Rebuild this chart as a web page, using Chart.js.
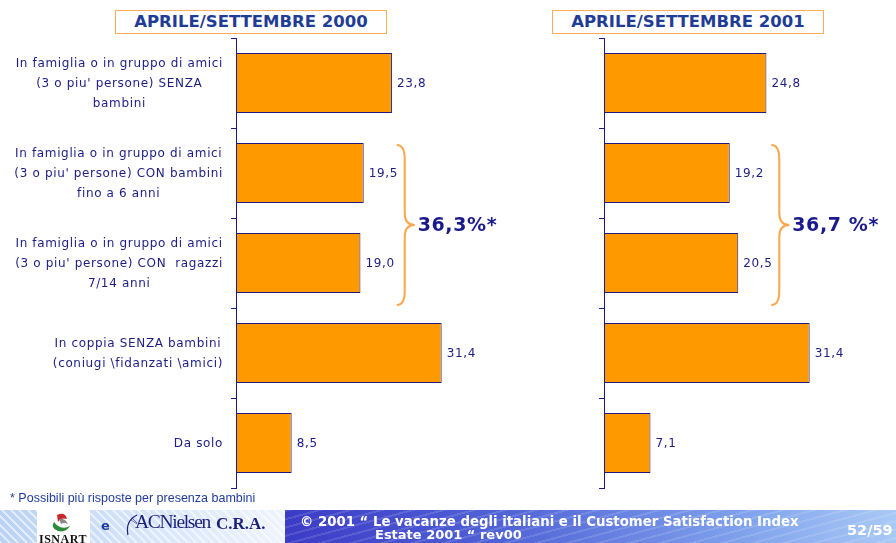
<!DOCTYPE html>
<html lang="it">
<head>
<meta charset="utf-8">
<title>Con chi si va in vacanza - Aprile/Settembre 2000 e 2001</title>
<script src="https://cdn.jsdelivr.net/npm/chart.js@4.4.1/dist/chart.umd.min.js"></script>
<style>
  html, body { margin: 0; padding: 0; background: #fff; }
  body { width: 896px; height: 543px; position: relative; overflow: hidden; font-family: "DejaVu Sans", sans-serif; }
  canvas { position: absolute; top: 0; }
  #chart2000 { left: 0; }
  #chart2001 { left: 368px; }
  .titolo {
    position: absolute; top: 10px; height: 22px; width: 270px;
    border: 1.5px solid #ffab5c; background: #fff; color: #1f3c96;
    font: bold 16.5px "DejaVu Sans", sans-serif; text-align: center; line-height: 22px;
  }
  #nota { position: absolute; left: 10px; top: 491px; font: 12.5px "Liberation Sans", Arial, sans-serif; color: #1f3c9a; }
  #piede { position: absolute; left: 0; top: 510px; width: 896px; height: 33px; }
  #piede-sx {
    position: absolute; left: 0; top: 0; width: 285px; height: 33px;
    background:
      repeating-linear-gradient(45deg, rgba(255,255,255,0.55) 0 2px, rgba(255,255,255,0) 2px 6px),
      linear-gradient(to right, #b9d1f3, #dbe8fb 60%, #eef4fd);
  }
  #piede-dx {
    position: absolute; left: 285px; top: 0; width: 611px; height: 33px;
    background:
      repeating-linear-gradient(165deg, rgba(255,255,255,0.13) 0 2px, rgba(255,255,255,0) 2px 8px),
      linear-gradient(to right, #3b3bc6, #5062d6 35%, #7fa2ec 75%, #a9c9f5);
  }
  #logo-isnart { position: absolute; left: 37px; top: 0; width: 53px; height: 33px; background: #fff; overflow: hidden; }
  #logo-isnart span { position: absolute; left: 2px; top: 22px; font: bold 12px "Liberation Serif", serif; color: #111; letter-spacing: 0.5px; }
  #e { position: absolute; left: 101px; top: 518px; font: bold 13px "DejaVu Sans", sans-serif; color: #1f3c9a; }
  #acn { position: absolute; left: 135px; top: 511px; font: 19.5px "Liberation Serif", serif; color: #1a1f7a; letter-spacing: -1.3px; }
  #cra { position: absolute; left: 216px; top: 514px; font: bold 17px "Liberation Serif", serif; color: #1a1f7a; }
  .bianco { position: absolute; color: #fff; font: bold 13.3px "DejaVu Sans", sans-serif; white-space: nowrap; }
</style>
</head>
<body>

<canvas id="chart2000" width="560" height="500"></canvas>
<canvas id="chart2001" width="528" height="500"></canvas>

<div class="titolo" style="left:115px">APRILE/SETTEMBRE 2000</div>
<div class="titolo" style="left:552px">APRILE/SETTEMBRE 2001</div>

<div id="nota">* Possibili più risposte per presenza bambini</div>

<div id="piede">
  <div id="piede-sx"></div>
  <div id="piede-dx"></div>
  <div id="logo-isnart">
    <svg width="53" height="24" style="position:absolute;left:0;top:0">
      <path d="M20 5 q8 -4 10 4 q-6 -2 -9 3 z" fill="#c8282c"/>
      <path d="M17 12 q-4 6 4 9 q8 2 12 -5 q-5 3 -10 1 q-4 -2 -6 -5 z" fill="#2e8b3a"/>
      <path d="M22 9 q6 -1 9 5 q-4 -2 -7 0 z" fill="#888"/>
    </svg>
    <span>ISNART</span>
  </div>
</div>
<div id="e">e</div>
<svg style="position:absolute;left:123px;top:512px" width="18" height="26">
  <path d="M14 3 q-12 6 -9 20" stroke="#1a1f7a" stroke-width="1.2" fill="none"/>
  <path d="M8 8 l6 4 M9 6 l5 5" stroke="#1a1f7a" stroke-width="0.6"/>
</svg>
<div id="acn">ACNielsen</div>
<div id="cra">C.R.A.</div>
<div class="bianco" style="left:300px;top:514px">© 2001 “ Le vacanze degli italiani e il Customer Satisfaction Index</div>
<div class="bianco" style="left:375px;top:527px;font-size:13px">Estate 2001 “ rev00</div>
<div class="bianco" style="left:847px;top:522px;font-size:14.5px">52/59</div>

<script>
// --- Dati ---
const categorie = [
    ['In famiglia o in gruppo di amici', "(3 o piu' persone) SENZA", 'bambini'],
    ['In famiglia o in gruppo di amici', "(3 o piu' persone) CON bambini", 'fino a 6 anni'],
    ['In famiglia o in gruppo di amici', "(3 o piu' persone) CON  ragazzi", '7/14 anni'],
    ['In coppia SENZA bambini', '(coniugi \\fidanzati \\amici)'],
    ['Da solo']
];
const valori2000 = [23.8, 19.5, 19.0, 31.4, 8.5];
const valori2001 = [24.8, 19.2, 20.5, 31.4, 7.1];
const gruppo2000 = '36,3%*';   // somma con bambini/ragazzi
const gruppo2001 = '36,7 %*';

const blu = '#1c1c84';
const arancio = '#ff9900';

function formatta(v) {
    return v.toFixed(1).replace('.', ',');
}

// Disegna una parentesi graffa aperta a sinistra
function disegnaGraffa(ctx, x0, alto, basso) {
    const mezzo = (alto + basso) / 2;
    const dorso = x0 + 8;
    const punta = x0 + 18;
    ctx.beginPath();
    ctx.moveTo(x0, alto);
    ctx.quadraticCurveTo(dorso, alto, dorso, alto + 14);
    ctx.lineTo(dorso, mezzo - 12);
    ctx.quadraticCurveTo(dorso, mezzo, punta, mezzo);
    ctx.quadraticCurveTo(dorso, mezzo, dorso, mezzo + 12);
    ctx.lineTo(dorso, basso - 14);
    ctx.quadraticCurveTo(dorso, basso, x0, basso);
    ctx.stroke();
    return { x: punta, y: mezzo };
}

// Plugin: etichette categorie, valori, graffa con totale
const etichettePlugin = {
    id: 'etichette',
    afterDatasetsDraw(chart, args, opts) {
        const ctx = chart.ctx;
        const xs = chart.scales.x;
        const ys = chart.scales.y;
        const valori = chart.data.datasets[0].data;
        const meta = chart.getDatasetMeta(0);
        ctx.save();
        ctx.fillStyle = blu;
        ctx.textBaseline = 'middle';
        ctx.font = '12px "DejaVu Sans"';
        ctx.letterSpacing = '0.65px';

        // valori a destra delle barre
        ctx.textAlign = 'left';
        meta.data.forEach((barra, i) => {
            ctx.fillText(formatta(valori[i]), barra.x + 5, barra.y + 1);
        });

        // categorie (solo grafico di sinistra)
        if (opts.categorie) {
            const destra = ys.right - 13;
            const interlinea = 20;
            ctx.textAlign = 'center';
            categorie.forEach((righe, i) => {
                const larghezza = Math.max(...righe.map(r => ctx.measureText(r).width));
                const cx = destra - larghezza / 2;
                const yc = ys.getPixelForValue(i);
                righe.forEach((r, k) => {
                    ctx.fillText(r, cx, yc + (k - (righe.length - 1) / 2) * interlinea + 1);
                });
            });
        }

        // graffa sulle due categorie con bambini / ragazzi
        const xg = xs.getPixelForValue(Math.max(valori[1], valori[2])) + 33;
        ctx.strokeStyle = '#ffa64d';
        ctx.lineWidth = 2;
        const p = disegnaGraffa(ctx, xg, ys.getPixelForValue(1) - 28, ys.getPixelForValue(2) + 42);
        ctx.font = 'bold 19px "DejaVu Sans"';
        ctx.letterSpacing = '0.6px';
        ctx.textAlign = 'left';
        ctx.fillStyle = '#1a1a8c';
        ctx.fillText(opts.gruppo, p.x + 3, p.y + 1);
        ctx.restore();
    }
};

function creaGrafico(id, valori, gruppo, mostraCategorie) {
    const ctx = document.getElementById(id).getContext('2d');
    const larghezza = ctx.canvas.width;
    return new Chart(ctx, {
        type: 'bar',
        data: {
            labels: categorie.map(r => r.join(' ')),
            datasets: [{
                data: valori,
                backgroundColor: arancio,
                borderColor: blu,
                borderWidth: 1,
                borderSkipped: false,
                barPercentage: 0.667,
                categoryPercentage: 1
            }]
        },
        options: {
            indexAxis: 'y',
            responsive: false,
            animation: false,
            layout: { padding: { top: 38, bottom: 12, right: larghezza - 236 - 262, left: 0 } },
            scales: {
                x: { display: false, min: 0, max: 40 },
                y: {
                    afterFit(scale) { scale.width = 236; },
                    ticks: { display: false },
                    grid: { drawOnChartArea: false, drawTicks: true, tickLength: 5, color: blu },
                    border: { display: true, color: blu, width: 1 }
                }
            },
            plugins: {
                legend: { display: false },
                tooltip: { enabled: false },
                etichette: { categorie: mostraCategorie, gruppo: gruppo }
            }
        },
        plugins: [etichettePlugin]
    });
}

creaGrafico('chart2000', valori2000, gruppo2000, true);
creaGrafico('chart2001', valori2001, gruppo2001, false);
</script>
</body>
</html>
